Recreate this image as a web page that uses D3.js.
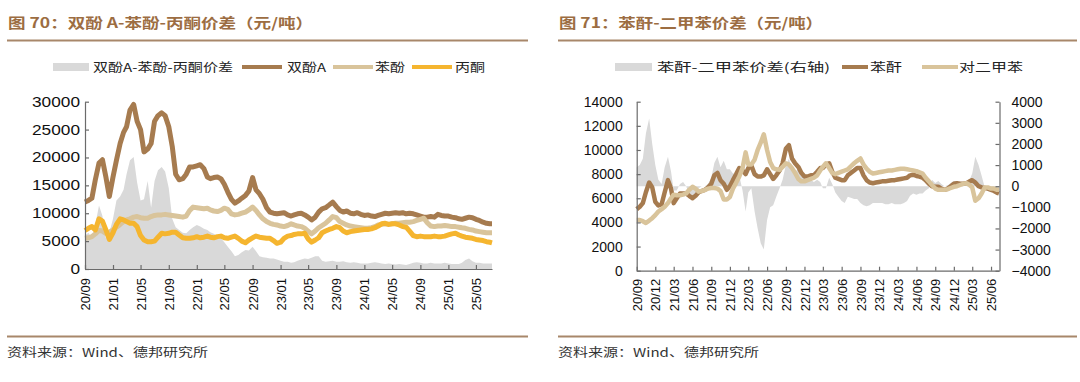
<!DOCTYPE html>
<html><head><meta charset="utf-8">
<script src="https://cdn.jsdelivr.net/npm/d3@7/dist/d3.min.js"></script>
<style>
html,body{margin:0;padding:0;background:#fff;}
svg{display:block;}
</style></head>
<body>
<svg id="c" width="1080" height="382"></svg>
<script>
// ---------- DATA ----------
const DATES = [
"2020-09-01","2020-09-16","2020-10-01","2020-10-16","2020-11-01","2020-11-16","2020-12-01","2020-12-16","2021-01-01","2021-01-16","2021-02-01","2021-02-16",
"2021-03-01","2021-03-16","2021-04-01","2021-04-16","2021-05-01","2021-05-16","2021-06-01","2021-06-16","2021-07-01","2021-07-16","2021-08-01","2021-08-16",
"2021-09-01","2021-09-16","2021-10-01","2021-10-16","2021-11-01","2021-11-16","2021-12-01","2021-12-16","2022-01-01","2022-01-16","2022-02-01","2022-02-16",
"2022-03-01","2022-03-16","2022-04-01","2022-04-16","2022-05-01","2022-05-16","2022-06-01","2022-06-16","2022-07-01","2022-07-16","2022-08-01","2022-08-16",
"2022-09-01","2022-09-16","2022-10-01","2022-10-16","2022-11-01","2022-11-16","2022-12-01","2022-12-16","2023-01-01","2023-01-16","2023-02-01","2023-02-16",
"2023-03-01","2023-03-16","2023-04-01","2023-04-16","2023-05-01","2023-05-16","2023-06-01","2023-06-16","2023-07-01","2023-07-16","2023-08-01","2023-08-16",
"2023-09-01","2023-09-16","2023-10-01","2023-10-16","2023-11-01","2023-11-16","2023-12-01","2023-12-16","2024-01-01","2024-01-16","2024-02-01","2024-02-16",
"2024-03-01","2024-03-16","2024-04-01","2024-04-16","2024-05-01","2024-05-16","2024-06-01","2024-06-16","2024-07-01","2024-07-16","2024-08-01","2024-08-16",
"2024-09-01","2024-09-16","2024-10-01","2024-10-16","2024-11-01","2024-11-16","2024-12-01","2024-12-16","2025-01-01","2025-01-16","2025-02-01","2025-02-16",
"2025-03-01","2025-03-16","2025-04-01","2025-04-16","2025-05-01","2025-05-16","2025-06-01","2025-06-16","2025-07-01","2025-07-10"
];

// Chart 70 (元/吨)
const BPA_SPREAD = [
6000,6500,5500,8000,11400,9500,5500,6500,9000,12300,13000,14200,
17000,19500,20100,15500,12300,12500,15800,11000,15800,17700,18300,17500,
14500,9000,7500,7000,6500,6400,7000,7500,7900,7600,7200,7000,
6600,6300,5900,5500,4800,4000,3200,2300,2500,3000,3400,3300,
4000,3200,2300,2100,2000,1900,1900,1700,1500,1300,1300,1100,
1200,1500,1700,1900,1800,2000,2300,2300,1500,1300,1400,1500,
1300,1300,1400,1200,1100,1200,1100,1000,1000,1000,1100,1200,
1100,1000,900,1000,900,800,900,800,700,900,1100,1200,
1100,1000,1000,1100,1000,1000,1000,1100,1000,900,900,900,
1100,1600,1900,1400,1100,1100,1000,1000,1000,1000
];
const BPA = [
12000,12300,12700,16000,19000,19600,16500,13000,16500,19500,22500,24500,
25500,28500,29500,26500,25000,21000,21500,22500,26500,27500,28000,27500,
25500,22000,17000,16000,16200,17000,18300,18300,18500,18700,18000,16500,
16200,16400,16500,16200,15200,13800,12500,11800,12200,12700,13200,14000,
16400,14200,13500,12500,11000,10200,10000,9900,10000,10100,9700,9500,
9700,9900,10000,9700,9300,8800,9300,10200,10800,11000,11500,12000,
11200,10500,10200,10400,10000,9900,10100,9800,9600,9700,9500,9400,
9600,9800,10000,9900,10000,10100,10000,10100,9900,10000,9900,9700,
9500,9300,9300,9400,9300,9800,9600,9500,9500,9300,9200,9000,
8900,9100,9300,9200,8900,8700,8400,8200,8100,8100
];
const PHENOL = [
5500,5600,5800,6300,6900,6800,6400,6600,7000,7500,8000,8500,
8800,9000,9300,9400,9200,9100,9100,9400,9600,9700,9700,9800,
9700,9600,9500,9400,9300,9500,10500,11100,11000,10900,10800,10900,
10600,10400,10300,10500,10900,10700,9900,9700,9800,10000,10200,10600,
11100,10500,9700,9000,8500,8200,8000,7900,7700,7600,7800,8100,
7900,7700,7600,7300,6800,6300,6800,7400,7800,8200,8800,9400,
9200,8500,8200,7900,7700,7600,7500,7400,7300,7300,7400,7600,
7900,8000,8100,8000,8100,8200,8200,8300,8400,8400,8500,8700,
8900,9100,8300,7700,7600,7700,7700,7800,7700,7600,7600,7500,
7400,7300,7100,7000,6800,6700,6600,6500,6500,6500
];
const ACETONE = [
6900,7300,7600,7000,9000,8600,7000,5300,6500,8000,9000,8800,
8500,8200,8200,7600,6000,5200,4900,4900,5000,5700,6400,6300,
6400,6600,6600,6100,5600,5500,5500,5600,5800,5600,5700,5900,
5700,5600,5800,5900,5600,5500,5700,5900,5500,5000,4700,5200,
5600,5900,5700,5600,5500,5500,5100,4600,4800,5500,5900,6000,
6200,6300,6300,6400,5400,4800,5200,5600,6500,6800,7100,7300,
7600,7400,6800,6500,6700,6800,6900,7000,7100,7100,7200,7400,
7700,8100,8200,8000,8100,8100,7900,7600,7500,6800,6000,5800,
5900,5800,5800,5800,5900,5800,5800,5900,6100,6300,6400,6100,
5900,5700,5600,5500,5300,5200,5100,4900,4800,4700
];

// Chart 71 (元/吨)
const PA_SPREAD = [
900,1000,1300,2500,3200,2000,1000,300,100,900,1400,700,
-200,-200,100,200,0,-400,-600,-300,-100,0,0,100,
400,1100,1400,900,1200,800,800,600,600,500,-200,-1200,
-300,-100,-1200,-2000,-2700,-3000,-1600,-1000,-900,-500,-100,300,
1000,1300,800,700,800,600,400,300,300,200,300,200,
-100,-100,400,100,-300,-500,-700,-800,-500,-550,-600,-600,
-800,-900,-950,-900,-800,-800,-800,-800,-850,-850,-800,-850,
-850,-850,-800,-700,-450,-350,-400,-350,-350,-200,-100,300,
150,250,100,0,50,150,250,250,100,0,0,300,
600,1400,1000,500,-50,-100,-100,-200,-250,-300
];
const PA = [
5100,5300,5600,6500,7300,6900,5700,5400,5500,6500,7500,6800,
5600,6000,6400,6400,6400,6200,6000,6200,6500,6600,6700,6900,
7200,7900,8100,7500,7200,6700,7000,7500,8000,8500,8300,8000,
8500,8700,8000,7800,7800,7900,8400,8000,7600,7900,8300,8900,
10100,10400,9300,8900,8600,8100,7800,7800,7900,7900,8200,8500,
8500,8800,8900,8200,7700,7600,7500,7500,7900,8100,8300,8500,
8500,7900,7500,7300,7250,7300,7350,7400,7400,7450,7500,7500,
7550,7600,7650,7700,7900,7950,7850,7800,7700,7500,7200,7000,
6950,6950,6800,6700,6800,7000,7200,7250,7200,7200,7250,7400,
7500,7300,7000,6900,6850,6800,6700,6600,6450,6400
];
const PX = [
4200,4200,4100,3950,4150,4350,4600,4900,5100,5300,5600,6000,
6300,6250,6250,6300,6400,6700,6950,6800,6550,6600,6700,6800,
6850,6850,6800,6600,5900,5900,6100,6800,7300,7800,8500,9800,
8800,8800,9200,10000,10600,11300,10000,9000,8500,8400,8350,8600,
8900,8800,8500,8100,7600,7400,7400,7500,7600,7700,7900,8300,
8600,8900,8500,8100,8000,8100,8200,8300,8400,8650,8900,9100,
9300,8800,8450,8200,8050,8100,8150,8200,8250,8300,8300,8350,
8400,8450,8450,8400,8350,8300,8250,8150,8050,7700,7400,7100,
6800,6700,6700,6700,6750,6850,6950,7000,7100,7200,7250,7100,
6900,5800,6000,6400,6900,6900,6800,6800,6700,6700
];

const TICKS_70 = ["20/09","21/01","21/05","21/09","22/01","22/05","22/09","23/01","23/05","23/09","24/01","24/05","24/09","25/01","25/05"];
const TICKS_71 = ["20/09","20/12","21/03","21/06","21/09","21/12","22/03","22/06","22/09","22/12","23/03","23/06","23/09","23/12","24/03","24/06","24/09","24/12","25/03","25/06"];
const Y_70 = [0,5000,10000,15000,20000,25000,30000];
const Y_71L = [0,2000,4000,6000,8000,10000,12000,14000];
const Y_71R = [-4000,-3000,-2000,-1000,0,1000,2000,3000,4000];

const TITLE_70 = "图 70：双酚 A-苯酚-丙酮价差（元/吨）";
const TITLE_71 = "图 71：苯酐-二甲苯价差（元/吨）";
const LEG_70 = ["双酚A-苯酚-丙酮价差","双酚A","苯酚","丙酮"];
const LEG_71 = ["苯酐-二甲苯价差(右轴)","苯酐","对二甲苯"];
const SOURCE = "资料来源：Wind、德邦研究所";

// ---------- STYLE ----------
const C_BROWN = "#a67b4f", C_BEIGE = "#d9c49b", C_ORANGE = "#f5b52f", C_GRAY = "#d9d9d9";
const C_TITLE = "#9c6d42", C_RULE = "#a8876a";
const CJK = "'Noto Sans CJK SC','Noto Sans',sans-serif";
const LAT = "'Liberation Sans',Arial,sans-serif";
const fmt = d3.format("d");

const svg = d3.select("#c");
const parse = d3.timeParse("%Y-%m-%d");
const dates = DATES.map(parse);
const tickDate = s => new Date(2000 + +s.slice(0,2), +s.slice(3,5) - 1, 1);

function stretchText(g, x, y, txt, len, opts) {
  const t = g.append("text").attr("x", x).attr("y", y).text(txt)
    .attr("font-family", opts.family || CJK).attr("font-size", opts.size)
    .attr("fill", opts.fill || "#222").attr("font-weight", opts.weight || "normal")
    .attr("text-anchor", opts.anchor || "start");
  if (len) t.attr("textLength", len).attr("lengthAdjust", "spacingAndGlyphs");
  return t;
}

// header / footer
function frame(x0, x1, title, titleLen) {
  stretchText(svg, x0 + 1, 28, title, titleLen, {size: 14, fill: C_TITLE, weight: "bold"});
  svg.append("line").attr("x1", x0).attr("x2", x1).attr("y1", 40.5).attr("y2", 40.5)
    .attr("stroke", C_RULE).attr("stroke-width", 2);
  svg.append("line").attr("x1", x0).attr("x2", x1).attr("y1", 336.5).attr("y2", 336.5)
    .attr("stroke", C_RULE).attr("stroke-width", 2);
  stretchText(svg, x0, 357, SOURCE, 201, {size: 12, fill: "#333"});
}
frame(7, 528, TITLE_70, 305);
frame(558, 1077, TITLE_71, 264);

function styleAxis(g) {
  g.select(".domain").attr("stroke", "#6b6b6b").attr("stroke-width", 1.2);
  g.selectAll(".tick line").attr("stroke", "#6b6b6b").attr("stroke-width", 1.2);
  g.selectAll(".tick text").attr("fill", "#111").attr("font-family", LAT);
}

// ---------- CHART 70 ----------
{
  const x = d3.scaleTime().domain([dates[0], dates[dates.length - 1]]).range([85, 492]);
  const y = d3.scaleLinear().domain([0, 30000]).range([269, 101.7]);
  const g = svg.append("g");

  g.append("path").datum(BPA_SPREAD)
    .attr("d", d3.area().x((d, i) => x(dates[i])).y0(y(0)).y1(d => y(d)))
    .attr("fill", C_GRAY);
  const line = d3.line().x((d, i) => x(dates[i])).y(d => y(d));
  [[BPA, C_BROWN], [PHENOL, C_BEIGE], [ACETONE, C_ORANGE]].forEach(([s, c]) => {
    g.append("path").datum(s).attr("d", line).attr("fill", "none")
      .attr("stroke", c).attr("stroke-width", 5).attr("stroke-linejoin", "round");
  });

  const ya = g.append("g").attr("transform", "translate(85,0)")
    .call(d3.axisLeft(y).tickValues(Y_70).tickFormat(fmt).tickSize(-4).tickSizeOuter(0).tickPadding(5));
  styleAxis(ya);
  ya.selectAll(".tick text").attr("font-size", 14)
    .attr("textLength", d => fmt(d).length * 9.6).attr("lengthAdjust", "spacingAndGlyphs");

  const xa = g.append("g").attr("transform", "translate(0,269)")
    .call(d3.axisBottom(x).tickValues(TICKS_70.map(tickDate)).tickFormat((d, i) => TICKS_70[i])
      .tickSize(-4).tickSizeOuter(0));
  styleAxis(xa);
  xa.selectAll(".tick text").attr("font-size", 13).attr("transform", "rotate(-90)")
    .attr("text-anchor", "end").attr("x", -9).attr("y", 0).attr("dy", "0.35em");

  // legend
  const ly = 67;
  g.append("rect").attr("x", 53).attr("y", ly - 4).attr("width", 36).attr("height", 8).attr("fill", C_GRAY);
  stretchText(g, 93, ly + 4.5, LEG_70[0], 140, {size: 12});
  g.append("line").attr("x1", 242).attr("x2", 282).attr("y1", ly).attr("y2", ly).attr("stroke", C_BROWN).attr("stroke-width", 4);
  stretchText(g, 287, ly + 4.5, LEG_70[1], 39, {size: 12});
  g.append("line").attr("x1", 333).attr("x2", 373).attr("y1", ly).attr("y2", ly).attr("stroke", C_BEIGE).attr("stroke-width", 4);
  stretchText(g, 375, ly + 4.5, LEG_70[2], 30, {size: 12});
  g.append("line").attr("x1", 412).attr("x2", 452).attr("y1", ly).attr("y2", ly).attr("stroke", C_ORANGE).attr("stroke-width", 4);
  stretchText(g, 455, ly + 4.5, LEG_70[3], 30, {size: 12});
}

// ---------- CHART 71 ----------
{
  const x = d3.scaleTime().domain([dates[0], dates[dates.length - 1]]).range([636.7, 999]);
  const yL = d3.scaleLinear().domain([0, 14000]).range([270.7, 101.7]);
  const yR = d3.scaleLinear().domain([-4000, 4000]).range([270.7, 101.7]);
  const g = svg.append("g");

  g.append("path").datum(PA_SPREAD)
    .attr("d", d3.area().x((d, i) => x(dates[i])).y0(yR(0)).y1(d => yR(d)))
    .attr("fill", C_GRAY);
  const line = d3.line().x((d, i) => x(dates[i])).y(d => yL(d));
  [[PA, C_BROWN], [PX, C_BEIGE]].forEach(([s, c]) => {
    g.append("path").datum(s).attr("d", line).attr("fill", "none")
      .attr("stroke", c).attr("stroke-width", 4.5).attr("stroke-linejoin", "round");
  });

  const yla = g.append("g").attr("transform", "translate(636.7,0)")
    .call(d3.axisLeft(yL).tickValues(Y_71L).tickFormat(fmt).tickSize(-4).tickSizeOuter(0).tickPadding(14));
  styleAxis(yla);
  yla.selectAll(".tick text").attr("font-size", 14);

  const yra = g.append("g").attr("transform", "translate(999.5,0)")
    .call(d3.axisRight(yR).tickValues(Y_71R).tickFormat(fmt).tickSize(-4).tickSizeOuter(0).tickPadding(12));
  styleAxis(yra);
  yra.selectAll(".tick text").attr("font-size", 14);

  const xa = g.append("g").attr("transform", "translate(0,270.7)")
    .call(d3.axisBottom(x).tickValues(TICKS_71.map(tickDate)).tickFormat((d, i) => TICKS_71[i])
      .tickSize(-4).tickSizeOuter(0));
  styleAxis(xa);
  xa.selectAll(".tick text").attr("font-size", 13).attr("transform", "rotate(-90)")
    .attr("text-anchor", "end").attr("x", -8).attr("y", 0).attr("dy", "0.35em");

  const ly = 67;
  g.append("rect").attr("x", 615).attr("y", ly - 4).attr("width", 37).attr("height", 8).attr("fill", C_GRAY);
  stretchText(g, 657, ly + 4.5, LEG_71[0], 173, {size: 12});
  g.append("line").attr("x1", 842).attr("x2", 868).attr("y1", ly).attr("y2", ly).attr("stroke", C_BROWN).attr("stroke-width", 4);
  stretchText(g, 870, ly + 4.5, LEG_71[1], 32, {size: 12});
  g.append("line").attr("x1", 922).attr("x2", 958).attr("y1", ly).attr("y2", ly).attr("stroke", C_BEIGE).attr("stroke-width", 4);
  stretchText(g, 959, ly + 4.5, LEG_71[2], 64, {size: 12});
}
</script>
</body></html>
